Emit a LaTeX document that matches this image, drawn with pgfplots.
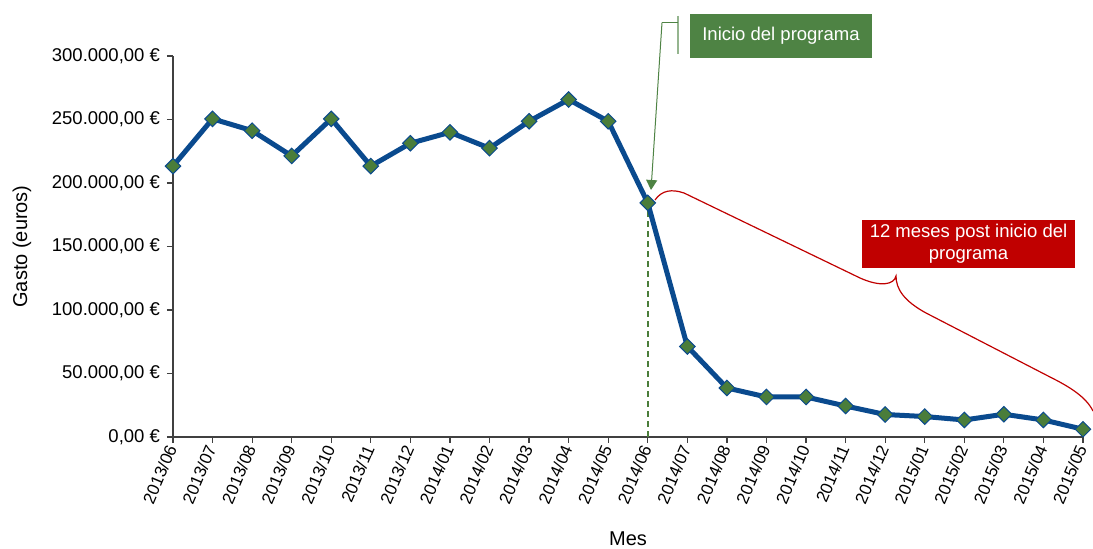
\documentclass[border=0pt]{standalone}
\usepackage{pgfplots}
\pgfplotsset{compat=1.18}
\usepackage{fontspec}
\setmainfont{Liberation Sans}
\usetikzlibrary{arrows.meta}
\definecolor{lineblue}{HTML}{0A4A8E}
\definecolor{mkgreen}{HTML}{4A7D3A}
\definecolor{boxgreen}{HTML}{4E8344}
\definecolor{boxred}{HTML}{C00000}
\definecolor{axgray}{HTML}{404040}
\begin{document}
\begin{tikzpicture}
\path[use as bounding box] (0pt,0pt) rectangle (546.5pt,274.5pt);
\begin{axis}[
 at={(86.5pt,56pt)}, anchor=south west,
 scale only axis, width=455pt, height=190.5pt,
 xmin=0, xmax=23, ymin=0, ymax=300000,
 scaled y ticks=false,
 axis x line*=bottom, axis y line*=left,
 axis line style={axgray, line width=0.6pt, -},
 tick style={axgray, line width=0.6pt},
 tick align=outside, major tick length=3pt,
 xtick={0,...,23},
 xticklabels={2013/06,2013/07,2013/08,2013/09,2013/10,2013/11,2013/12,2014/01,2014/02,2014/03,2014/04,2014/05,2014/06,2014/07,2014/08,2014/09,2014/10,2014/11,2014/12,2015/01,2015/02,2015/03,2015/04,2015/05},
 xticklabel style={rotate=67, anchor=east, font=\fontsize{8.5}{10}\selectfont, inner sep=1.5pt},
 ytick={0,50000,100000,150000,200000,250000,300000},
 yticklabels={{0,00 €},{50.000,00 €},{100.000,00 €},{150.000,00 €},{200.000,00 €},{250.000,00 €},{300.000,00 €}},
 yticklabel style={font=\fontsize{9.25}{11}\selectfont},
 xlabel={Mes}, ylabel={Gasto (euros)},
 label style={font=\fontsize{10}{12}\selectfont},
 xlabel style={at={(axis description cs:0.5,-0.268)}, anchor=center},
 ylabel style={at={(axis description cs:-0.166,0.5)}, anchor=center},
 clip=false,
]
\draw[mkgreen, line width=0.8pt, dash pattern=on 3pt off 2pt] (axis cs:12,0) -- (axis cs:12,184000);
\addplot[lineblue, line width=2.5pt, mark=square*, mark size=2.75pt,
  mark options={rotate=45, fill=mkgreen, draw=lineblue, line width=0.5pt}]
 coordinates {
 (0,213300) (1,250500) (2,241200) (3,221300) (4,250500) (5,213300)
 (6,231300) (7,239900) (8,227400) (9,248600) (10,265700) (11,248600)
 (12,184300) (13,71300) (14,38600) (15,31500) (16,31500) (17,24400)
 (18,17700) (19,16100) (20,13400) (21,17900) (22,13400) (23,6100)
 };
\end{axis}
% Inicio del programa callout
\fill[boxgreen] (345pt,245.5pt) rectangle (436pt,267.5pt);
\node[white, font=\fontsize{9.25}{11}\selectfont] at (390.5pt,256.5pt) {Inicio del programa};
\draw[boxgreen!60, line width=0.8pt] (339pt,266.5pt) -- (339pt,247.5pt);
\draw[boxgreen, line width=0.5pt] (339pt,263.2pt) -- (331pt,263.2pt);
\draw[boxgreen, line width=0.5pt, -{Triangle[width=5.5pt,length=5pt]}] (331pt,263.2pt) -- (325.5pt,179.5pt);
% 12 meses callout
\fill[boxred] (431pt,140.5pt) rectangle (537.5pt,164.5pt);
\node[white, align=center, font=\fontsize{9.25}{11}\selectfont] at (484.25pt,152.5pt) {12 meses post inicio del\\programa};
\draw[boxred, line width=0.6pt] (327.5pt,174.5pt) .. controls (331pt,179.5pt) and (336pt,180pt) .. (342pt,178pt)
  -- (430pt,135.5pt) .. controls (440pt,131pt) and (447pt,132pt) .. (448pt,136.5pt)
  .. controls (448pt,130pt) and (452pt,124pt) .. (463pt,118pt)
  -- (525pt,86pt) .. controls (535pt,81pt) and (543pt,76pt) .. (546.5pt,69pt);
\end{tikzpicture}
\end{document}
